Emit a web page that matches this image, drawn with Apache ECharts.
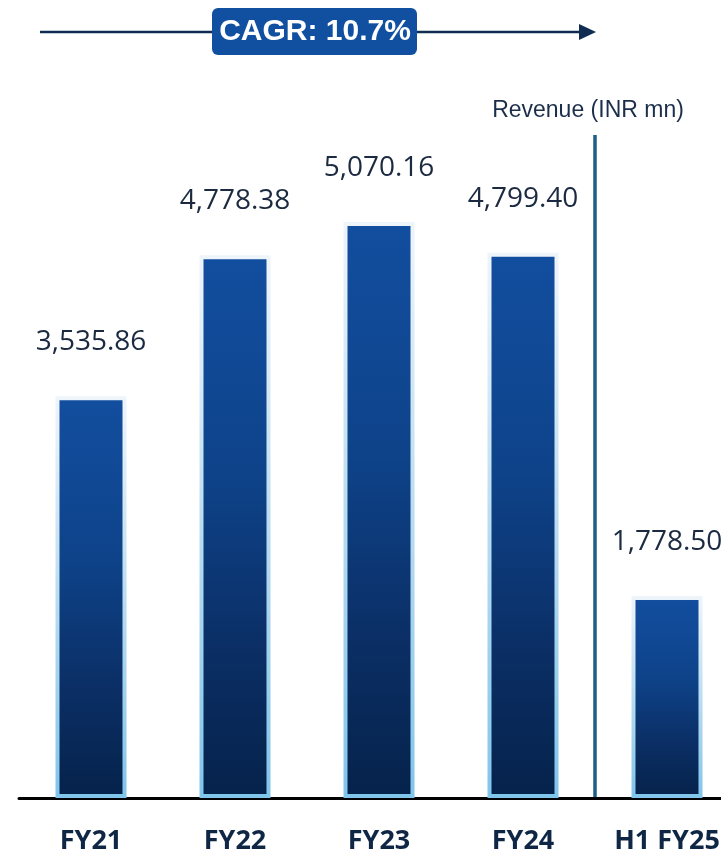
<!DOCTYPE html>
<html>
<head>
<meta charset="utf-8">
<script src="https://cdn.jsdelivr.net/npm/echarts@6/dist/echarts.min.js"></script>
<style>
  html, body { margin: 0; padding: 0; background: #ffffff; overflow: hidden; }
  /* the last category runs off the right edge, so the canvas is wider than the page */
  #chart { width: 739px; height: 855px; }
</style>
</head>
<body>
<div id="chart"></div>
<script>
// Revenue by period (INR mn)
const categories = ['FY21', 'FY22', 'FY23', 'FY24', 'H1 FY25'];
const revenue = [3535.86, 4778.38, 5070.16, 4799.40, 1778.50];
const cagrText = 'CAGR: 10.7%';
const unitText = 'Revenue (INR mn)';

const fmt = v => v.toLocaleString('en-US', { minimumFractionDigits: 2, maximumFractionDigits: 2 });

const chart = echarts.init(document.getElementById('chart'), null, { renderer: 'canvas' });

const barFill = new echarts.graphic.LinearGradient(0, 0, 0, 1, [
  { offset: 0, color: '#124e9f' },
  { offset: 0.4, color: '#0e438a' },
  { offset: 0.72, color: '#0b2f66' },
  { offset: 1, color: '#05224a' }
]);
const barEdge = new echarts.graphic.LinearGradient(0, 0, 0, 1, [
  { offset: 0, color: '#eef5fb' },
  { offset: 0.45, color: '#bfdff2' },
  { offset: 1, color: '#80c5eb' }
]);

chart.setOption({
  animation: false,
  backgroundColor: '#ffffff',
  grid: { left: 19, right: 0, top: 116.4, bottom: 54 },
  xAxis: {
    type: 'category',
    data: categories,
    axisLine: { show: true, lineStyle: { color: '#000000', width: 3 } },
    axisTick: { show: false },
    axisLabel: {
      margin: 30,
      fontFamily: 'Open Sans',
      fontWeight: 'bold',
      fontSize: 27,
      color: '#0f2744'
    }
  },
  yAxis: {
    type: 'value',
    min: 0,
    max: 6000,
    show: false,
    splitLine: { show: false }
  },
  series: [{
    type: 'bar',
    data: revenue,
    barWidth: 71,
    itemStyle: {
      color: barFill,
      borderColor: barEdge,
      borderWidth: 4
    },
    label: {
      show: true,
      position: 'top',
      distance: 40,
      fontFamily: 'Open Sans',
      fontSize: 28,
      lineHeight: 28,
      color: '#1b2a40',
      formatter: p => fmt(p.value)
    }
  }]
});

// Divider between the full years and the half year, plus header annotations
const xLast = chart.convertToPixel({ xAxisIndex: 0 }, categories[categories.length - 1]);
const xPrev = chart.convertToPixel({ xAxisIndex: 0 }, categories[categories.length - 2]);
const dividerX = (xLast + xPrev) / 2;
const baseY = chart.convertToPixel({ yAxisIndex: 0 }, 0);

chart.setOption({
  graphic: [
    {
      type: 'line',
      shape: { x1: dividerX, y1: 135, x2: dividerX, y2: baseY - 1 },
      style: { stroke: '#1b5e86', lineWidth: 3.5 },
      z: 10
    },
    {
      type: 'text',
      x: dividerX - 7,
      y: 111,
      style: {
        text: unitText,
        fontFamily: 'Liberation Sans',
        fontSize: 23,
        fill: '#1b2e4a',
        align: 'center',
        verticalAlign: 'middle'
      }
    },
    {
      type: 'line',
      shape: { x1: 40, y1: 32, x2: 582, y2: 32 },
      style: { stroke: '#0f2d50', lineWidth: 2.5 }
    },
    {
      type: 'polygon',
      shape: { points: [[579, 24], [596, 32], [579, 40]] },
      style: { fill: '#0f2d50' }
    },
    {
      type: 'rect',
      shape: { x: 212, y: 8, width: 205, height: 47, r: 6 },
      style: { fill: '#1150a0' },
      z: 5
    },
    {
      type: 'text',
      x: 315,
      y: 32,
      z: 6,
      style: {
        text: cagrText,
        fontFamily: 'Liberation Sans',
        fontWeight: 'bold',
        fontSize: 30,
        fill: '#ffffff',
        align: 'center',
        verticalAlign: 'middle'
      }
    }
  ]
});
</script>
</body>
</html>
